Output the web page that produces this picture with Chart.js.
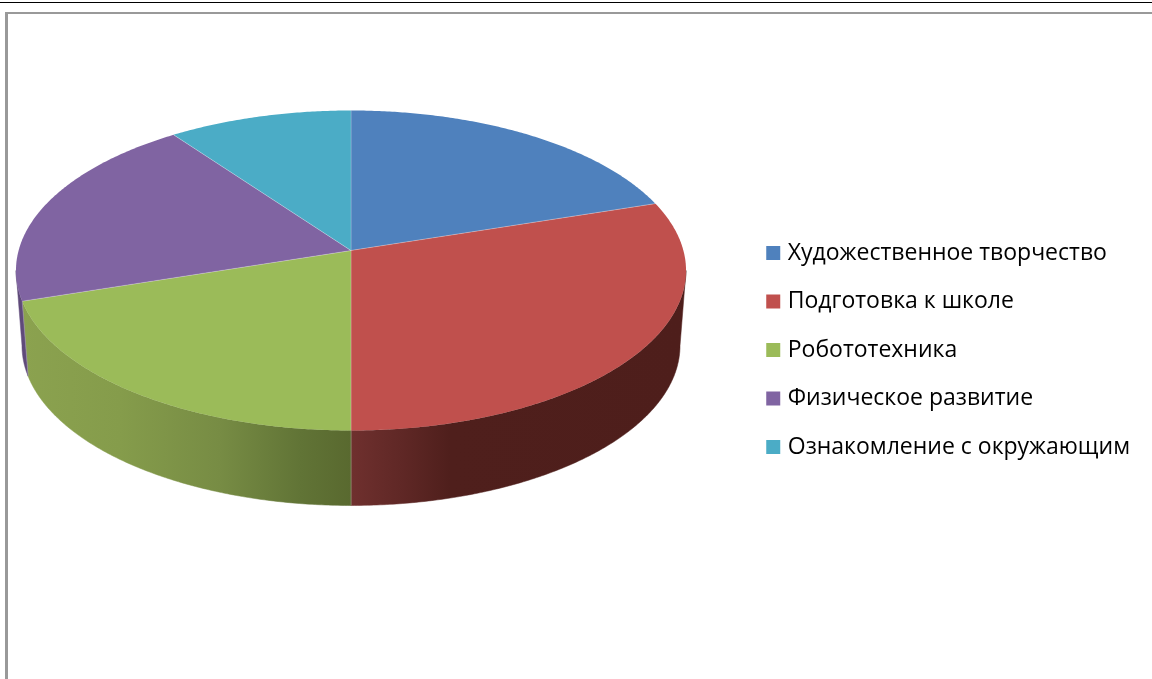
<!DOCTYPE html>
<html><head><meta charset="utf-8">
<style>
html,body{margin:0;padding:0;background:#fff;width:1152px;height:679px;overflow:hidden}
#wrap{position:absolute;left:0;top:0;width:1152px;height:679px}
.l{position:absolute}
</style>
<script src="https://cdn.jsdelivr.net/npm/chart.js@4"></script>
</head><body>
<div class="l" style="left:0;top:2px;width:1152px;height:1px;background:#000"></div>
<div class="l" style="left:5px;top:12px;width:1147px;height:2px;background:#999"></div>
<div class="l" style="left:5px;top:12px;width:3px;height:667px;background:#999"></div>
<div id="wrap"><canvas id="c" width="1152" height="679"></canvas></div>
<script>
const categories = ['Художественное творчество','Подготовка к школе','Робототехника','Физическое развитие','Ознакомление с окружающим'];
const values = [20,30,20,20,10];
const colors = ['#4f81bd','#c0504d','#9bbb59','#8064a2','#4bacc6'];
const wallStops = [null,
  [[351,'#6f302e'],[400,'#602826'],[450,'#4f1f1c'],[686,'#4e1e1b']],
  [[22,'#8ba24f'],[120,'#859c4b'],[220,'#778c44'],[300,'#617436'],[351,'#59692f']],
  [[16,'#5f4a7a'],[30,'#5f4a7a']],
  null];

// Perspective projection of the pie disc
const HX=351,HY=250.5,A=332.4,B=157.5,C=-0.125,DEPTH=75,SHRINK=329/335;
const topPt=(a)=>{const u=Math.cos(a),v=Math.sin(a),w=1+C*v;return [HX+A*u/w,HY+B*v/w];};
const botPt=(a)=>{const u=Math.cos(a),v=Math.sin(a),w=1+C*v;return [HX+SHRINK*A*u/w,HY+DEPTH+B*v/w];};
const FRONT_MIN=Math.asin(0.125),FRONT_MAX=Math.PI-FRONT_MIN;

const ArcProto=(Chart.ArcElement||Chart.elements.ArcElement).prototype;
ArcProto.draw=function(ctx){
  const s=this.startAngle,e=this.endAngle,i=this.$context?this.$context.dataIndex:0,STEP=Math.PI/360;
  ctx.save();
  // side wall
  const a0=Math.max(s,FRONT_MIN),a1=Math.min(e,FRONT_MAX);
  if(a1>a0&&wallStops[i]){
    const st=wallStops[i],g=ctx.createLinearGradient(st[0][0],0,st[st.length-1][0],0);
    st.forEach(p=>g.addColorStop((p[0]-st[0][0])/(st[st.length-1][0]-st[0][0]),p[1]));
    ctx.beginPath();
    for(let a=a0;a<a1;a+=STEP){const p=topPt(a);ctx.lineTo(p[0],p[1]);}
    let p=topPt(a1);ctx.lineTo(p[0],p[1]);
    for(let a=a1;a>a0;a-=STEP){const q=botPt(a);ctx.lineTo(q[0],q[1]);}
    p=botPt(a0);ctx.lineTo(p[0],p[1]);
    ctx.closePath();ctx.fillStyle=g;ctx.fill();
    ctx.strokeStyle=g;ctx.lineWidth=0.5;ctx.stroke();
  }
  // top face
  ctx.beginPath();ctx.moveTo(HX,HY);
  for(let a=s;a<e;a+=STEP){const p=topPt(a);ctx.lineTo(p[0],p[1]);}
  const pe=topPt(e);ctx.lineTo(pe[0],pe[1]);ctx.closePath();
  ctx.fillStyle=this.options.backgroundColor;ctx.fill();
  // light seams between slices
  ctx.strokeStyle='rgba(255,255,255,0.2)';ctx.lineWidth=1;
  [s,e].forEach(a=>{const p=topPt(a);ctx.beginPath();ctx.moveTo(HX,HY);ctx.lineTo(p[0],p[1]);ctx.stroke();
    if(a>FRONT_MIN&&a<FRONT_MAX){const q=botPt(a);ctx.beginPath();ctx.moveTo(p[0],p[1]);ctx.lineTo(q[0],q[1]);ctx.stroke();}});
  ctx.restore();
};

new Chart(document.getElementById('c'),{
  type:'pie',
  data:{labels:categories,datasets:[{data:values,backgroundColor:colors,borderWidth:0}]},
  options:{
    responsive:false,animation:false,
    layout:{padding:{left:0,right:12,top:21,bottom:0}},
    plugins:{
      tooltip:{enabled:false},
      title:{display:false},
      legend:{position:'right',align:'center',
        labels:{usePointStyle:true,pointStyle:'rect',boxWidth:6,boxHeight:14,padding:25.5,color:'#000',
          font:{family:'"Open Sans"',size:23}}}
    }
  }
});
</script>
</body></html>
